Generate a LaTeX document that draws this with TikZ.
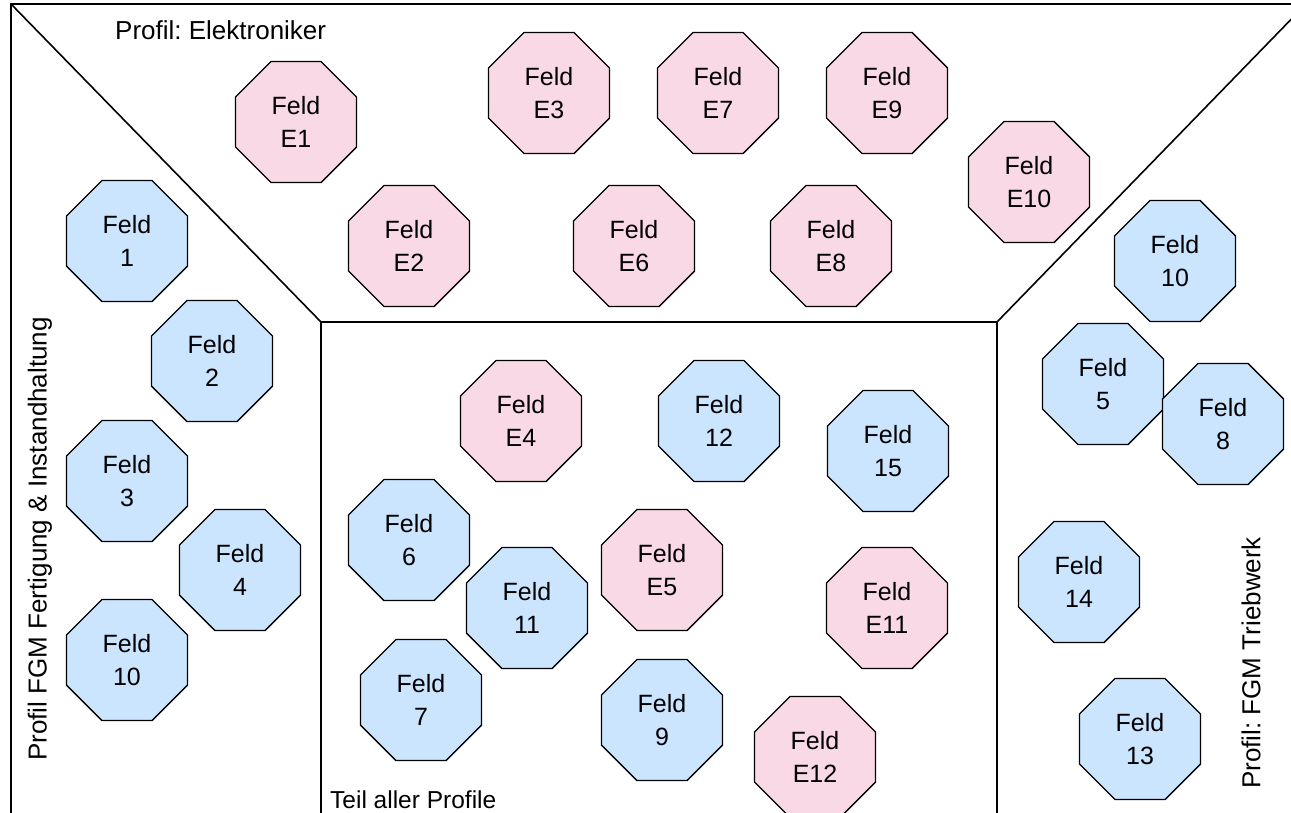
\documentclass[tikz,border=0pt]{standalone}
\usepackage{fontspec}
\setmainfont{Liberation Sans}
\frenchspacing
\usetikzlibrary{shapes.geometric}
\definecolor{elfill}{HTML}{FAD9E6}
\definecolor{fgfill}{HTML}{CCE5FF}
\tikzset{
  field/.style={regular polygon, regular polygon sides=8, minimum size=131pt,
    inner sep=0pt, draw=black, line width=1.3pt, align=center,
    font=\fontsize{25}{33}\selectfont},
  efield/.style={field, fill=elfill},
  bfield/.style={field, fill=fgfill},
  frameline/.style={line width=1.6pt},
  caption/.style={font=\fontsize{26}{31}\selectfont, inner sep=0pt},
}
\begin{document}
\begin{tikzpicture}[x=1pt,y=-1pt]
\useasboundingbox (0,0) rectangle (1291,812);

% profile regions
\begin{scope}
  \clip (0,0) rectangle (1291,812);
  \draw[frameline] (1300,4) -- (11,4) -- (11,820);
  \draw[frameline] (11,4) -- (321,322);
  \draw[frameline] (321,820) -- (321,322) -- (997,322) -- (997,820);
  \draw[frameline] (997,322) -- (1305,5);
\end{scope}

% region captions
\node[caption, anchor=west] (capE) at (115,30) {Profil: Elektroniker};
\node[caption, anchor=west, font=\fontsize{24.5}{29}\selectfont] (capAll) at (330,800) {Teil aller Profile};
\node[caption, rotate=90] (capF) at (40,539) {Profil FGM Fertigung \& Instandhaltung};
\node[caption, rotate=90] (capT) at (1251,663) {Profil: FGM Triebwerk};

% Elektroniker fields
\node[efield] (e1) at (296,122) {Feld\\E1};
\node[efield] (e3) at (549,93) {Feld\\E3};
\node[efield] (e7) at (718,93) {Feld\\E7};
\node[efield] (e9) at (887,93) {Feld\\E9};
\node[efield] (e10) at (1029,182) {Feld\\E10};
\node[efield] (e2) at (409,246) {Feld\\E2};
\node[efield] (e6) at (634,246) {Feld\\E6};
\node[efield] (e8) at (831,246) {Feld\\E8};

% Fertigung & Instandhaltung fields
\node[bfield] (f1) at (127,241) {Feld\\1};
\node[bfield] (f2) at (212,361) {Feld\\2};
\node[bfield] (f3) at (127,481) {Feld\\3};
\node[bfield] (f4) at (240,570) {Feld\\4};
\node[bfield] (f10) at (127,660) {Feld\\10};

% common fields
\node[efield] (e4) at (521,421) {Feld\\E4};
\node[bfield] (c12) at (719,421) {Feld\\12};
\node[bfield] (c15) at (888,451) {Feld\\15};
\node[bfield] (c6) at (409,540) {Feld\\6};
\node[efield] (e5) at (662,570) {Feld\\E5};
\node[bfield] (c11) at (527,608) {Feld\\11};
\node[efield] (e11) at (887,608) {Feld\\E11};
\node[bfield] (c7) at (421,700) {Feld\\7};
\node[bfield] (c9) at (662,720) {Feld\\9};
\node[efield] (e12) at (815,757) {Feld\\E12};

% Triebwerk fields
\node[bfield] (t10) at (1175,261) {Feld\\10};
\node[bfield] (t5) at (1103,384) {Feld\\5};
\node[bfield] (t8) at (1223,424) {Feld\\8};
\node[bfield] (t14) at (1079,582) {Feld\\14};
\node[bfield] (t13) at (1140,739) {Feld\\13};
\end{tikzpicture}
\end{document}
